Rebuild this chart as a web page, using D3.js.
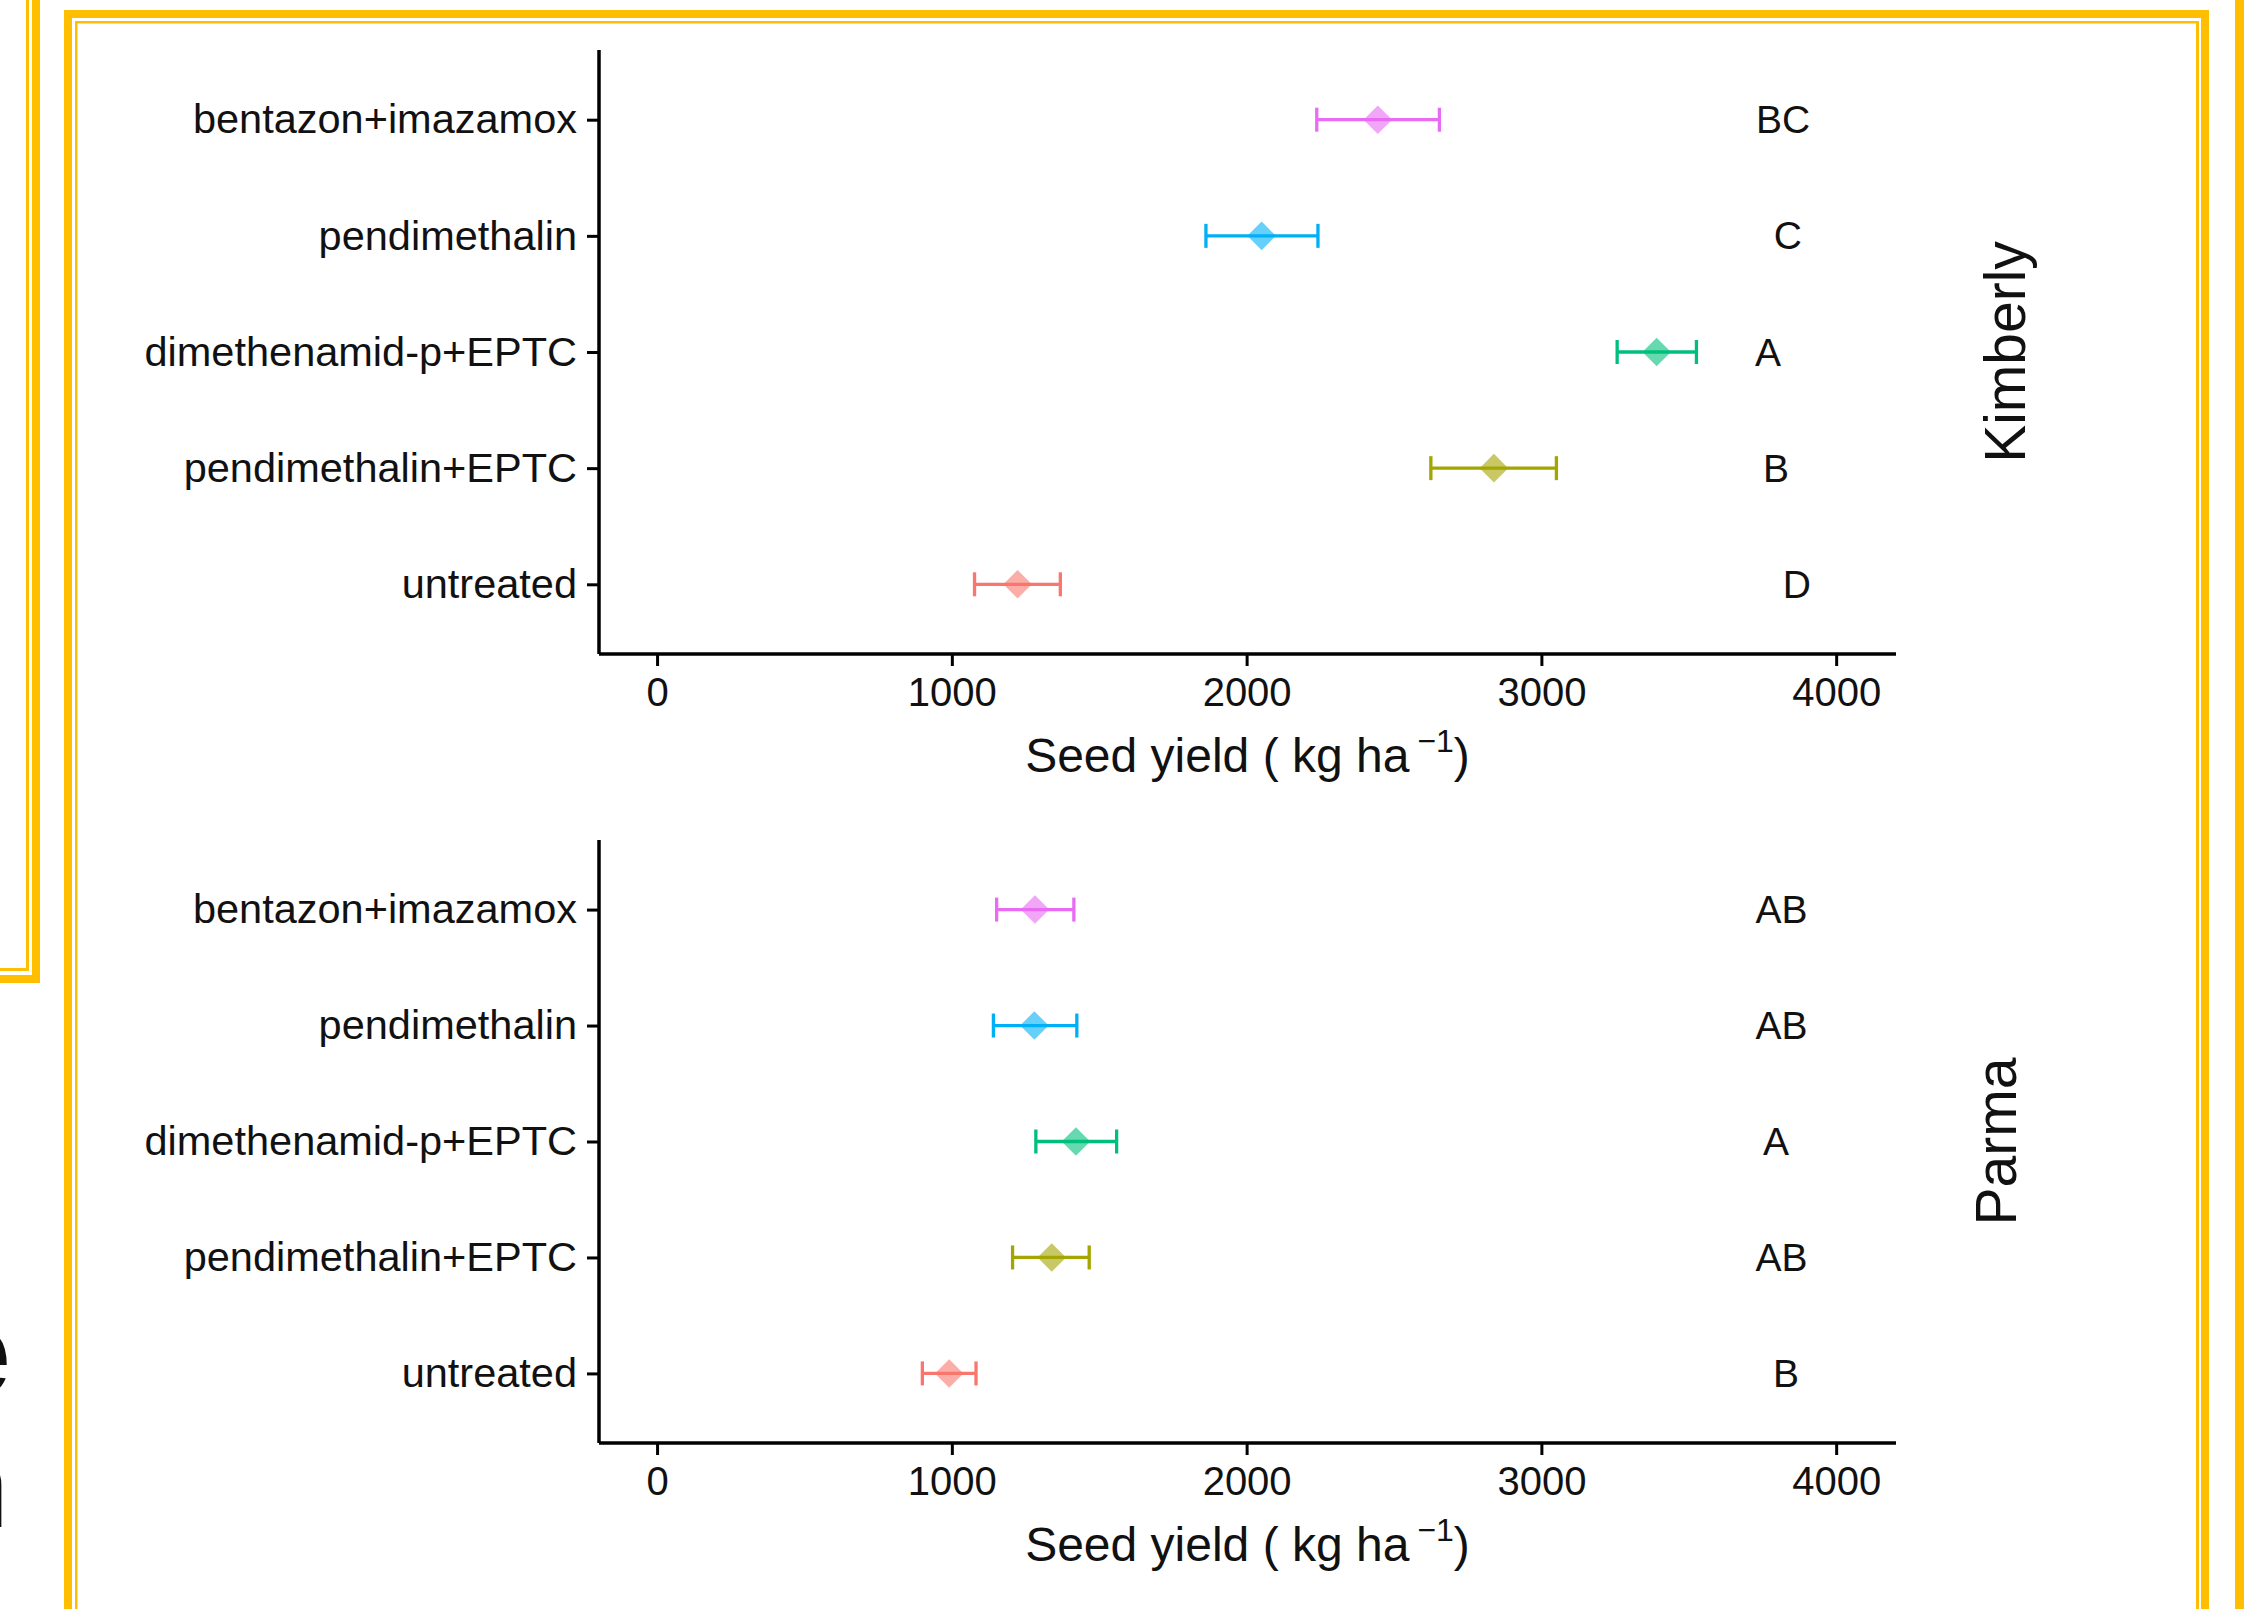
<!DOCTYPE html>
<html>
<head>
<meta charset="utf-8">
<script src="https://cdn.jsdelivr.net/npm/d3@7"></script>
<style>
  body { margin: 0; background: #fff; }
  svg { display: block; font-family: "Liberation Sans", Arial, Helvetica, sans-serif; }
</style>
</head>
<body>
<svg id="chart" width="2244" height="1609"></svg>
<script>
// treatments bottom -> top, ggplot hue colours
const treatments = ["untreated", "pendimethalin+EPTC", "dimethenamid-p+EPTC", "pendimethalin", "bentazon+imazamox"];
const colors = ["#F8766D", "#A3A500", "#00BF7D", "#00B0F6", "#E76BF3"];

const kimberlyMean = [1223, 2839, 3391, 2051, 2445];
const kimberlyLow = [1077, 2625, 3257, 1862, 2238];
const kimberlyHigh = [1368, 3051, 3526, 2242, 2654];
const kimberlyLetters = ["D", "B", "A", "C", "BC"];
const kimberlyLetterX = [3867, 3796, 3769, 3836, 3820];

const parmaMean = [991, 1339, 1421, 1280, 1282];
const parmaLow = [900, 1206, 1285, 1141, 1152];
const parmaHigh = [1082, 1466, 1559, 1424, 1414];
const parmaLetters = ["B", "AB", "A", "AB", "AB"];
const parmaLetterX = [3830, 3815, 3796, 3815, 3815];

const xTicks = [0, 1000, 2000, 3000, 4000];
const xLimits = [-197, 4203];

const svg = d3.select("#chart");
const yellow = "#FFBF00";

// slide frames
function frameLine(x, y, w, h) {
  svg.append("rect").attr("x", x).attr("y", y).attr("width", w).attr("height", h).attr("fill", yellow);
}
// previous slide (left)
frameLine(32, 0, 8, 983);
frameLine(0, 975, 40, 8);
frameLine(26, 0, 3, 971);
frameLine(0, 968, 29, 3);
// main slide
frameLine(64, 10, 8, 1599);
frameLine(64, 10, 2145, 8);
frameLine(2201, 10, 8, 1599);
frameLine(75, 21, 2.5, 1588);
frameLine(75, 21, 2124, 2.5);
frameLine(2196, 21, 3, 1588);
// next slide (right)
frameLine(2235, 0, 9, 1609);

// clipped words from the previous slide
svg.append("text").attr("x", 11).attr("y", 1395).attr("text-anchor", "end")
  .attr("font-size", 125).attr("font-weight", "bold").attr("fill", "#111").text("e");
svg.append("text").attr("x", 9).attr("y", 1527).attr("text-anchor", "end")
  .attr("font-size", 125).attr("font-weight", "bold").attr("fill", "#111").text("n");

const x = d3.scaleLinear().domain(xLimits).range([599, 1896]);

function panel(top, bottom, mean, low, high, letters, letterX, site, siteX) {
  const y = d3.scalePoint().domain(treatments).range([bottom, top]).padding(0.6);
  const g = svg.append("g");

  const yAxis = g.append("g").attr("transform", `translate(${x.range()[0]},0)`)
    .call(d3.axisLeft(y).tickSize(12).tickPadding(10));
  const xAxis = g.append("g").attr("transform", `translate(0,${bottom})`)
    .call(d3.axisBottom(x).tickValues(xTicks).tickFormat(d3.format("d")).tickSize(12).tickPadding(12));
  [yAxis, xAxis].forEach(a => {
    a.select(".domain").attr("stroke", "#000").attr("stroke-width", 3.5);
    a.selectAll(".tick line").attr("stroke", "#000").attr("stroke-width", 3);
    a.selectAll(".tick text").attr("fill", "#111").attr("font-size", 40)
      .attr("font-family", "Liberation Sans, Arial, sans-serif");
  });
  yAxis.selectAll(".tick text").attr("font-size", 41.5);
  // axisLeft domain has outer ticks of size 12; redraw plain lines
  yAxis.select(".domain").attr("d", `M0,${top}V${bottom}`);
  xAxis.select(".domain").attr("d", `M${x.range()[0]},0H${x.range()[1]}`);

  const rows = treatments.map((t, i) => ({ t, i }));

  // error bars
  const eb = g.selectAll(".eb").data(rows).enter().append("g")
    .attr("stroke", d => colors[d.i]).attr("stroke-width", 3.3).attr("fill", "none");
  eb.append("line").attr("x1", d => x(low[d.i])).attr("x2", d => x(high[d.i]))
    .attr("y1", d => y(d.t)).attr("y2", d => y(d.t));
  eb.append("line").attr("x1", d => x(low[d.i])).attr("x2", d => x(low[d.i]))
    .attr("y1", d => y(d.t) - 12).attr("y2", d => y(d.t) + 12);
  eb.append("line").attr("x1", d => x(high[d.i])).attr("x2", d => x(high[d.i]))
    .attr("y1", d => y(d.t) - 12).attr("y2", d => y(d.t) + 12);

  // mean diamonds
  g.selectAll(".pt").data(rows).enter().append("path")
    .attr("d", d3.symbol(d3.symbolDiamond2, 520))
    .attr("transform", d => `translate(${x(mean[d.i])},${y(d.t)})`)
    .attr("fill", d => colors[d.i]).attr("fill-opacity", 0.6);

  // letter groups
  g.selectAll(".lt").data(rows).enter().append("text")
    .attr("x", d => x(letterX[d.i])).attr("y", d => y(d.t))
    .attr("dy", "0.35em").attr("text-anchor", "middle")
    .attr("font-size", 39).attr("fill", "#111")
    .text(d => letters[d.i]);

  // x title
  const title = g.append("text").attr("x", (x.range()[0] + x.range()[1]) / 2).attr("y", bottom + 118)
    .attr("text-anchor", "middle").attr("font-size", 48).attr("fill", "#111");
  title.append("tspan").text("Seed yield ( kg ha");
  title.append("tspan").attr("font-size", 32).attr("dy", -20).attr("dx", 8).text("\u22121");
  title.append("tspan").attr("dy", 20).text(")");

  // facet strip label
  const cy = (top + bottom) / 2;
  g.append("text").attr("transform", `translate(${siteX},${cy}) rotate(-90)`)
    .attr("text-anchor", "middle").attr("font-size", 57).attr("fill", "#111").text(site);
}

panel(50, 654, kimberlyMean, kimberlyLow, kimberlyHigh, kimberlyLetters, kimberlyLetterX, "Kimberly", 2025);
panel(840, 1443, parmaMean, parmaLow, parmaHigh, parmaLetters, parmaLetterX, "Parma", 2016);
</script>
</body>
</html>
